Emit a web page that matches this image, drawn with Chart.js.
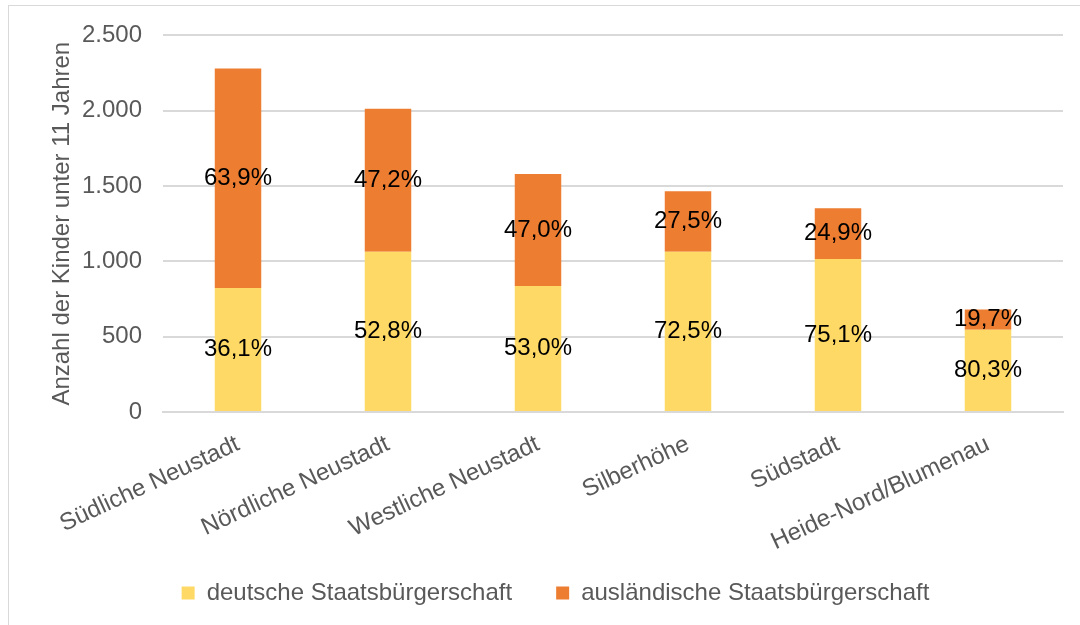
<!DOCTYPE html>
<html>
<head>
<meta charset="utf-8">
<script src="https://cdn.jsdelivr.net/npm/chart.js@4"></script>
<style>
    html, body { margin: 0; padding: 0; background: #fff; }
    #wrap { position: relative; width: 1080px; height: 625px; }
    #frame { position: absolute; left: 8px; top: 5px; width: 1100px; height: 700px;
             border-left: 1px solid #d9d9d9; border-top: 1px solid #d9d9d9; }
    canvas { position: absolute; left: 0; top: 0; }
</style>
</head>
<body>
<div id="wrap">
    <div id="frame"></div>
    <canvas id="kinderChart" width="1080" height="625"></canvas>
</div>
<script>
const stadtteile = ['Südliche Neustadt', 'Nördliche Neustadt', 'Westliche Neustadt', 'Silberhöhe', 'Südstadt', 'Heide-Nord/Blumenau'];
const deutsche = [823, 1063, 837, 1063, 1016, 546];
const auslaendische = [1457, 950, 743, 403, 337, 134];
const anteilDeutsch = [36.1, 52.8, 53.0, 72.5, 75.1, 80.3];
const anteilAuslaendisch = [63.9, 47.2, 47.0, 27.5, 24.9, 19.7];
const yTicks = [0, 500, 1000, 1500, 2000, 2500];

const fontFamily = '"Liberation Sans", Arial, sans-serif';
const grau = '#595959';

// Prozentwerte mittig in die Balkenabschnitte schreiben
const prozentLabels = {
    id: 'prozentLabels',
    beforeDraw(chart) {
        // x-Beschriftung nicht auf die Achsenbox beschneiden
        chart.scales.x._computeLabelArea = () => undefined;
    },
    afterDatasetsDraw(chart) {
        const ctx = chart.ctx;
        ctx.save();
        ctx.font = '24px ' + fontFamily;
        ctx.fillStyle = '#000';
        ctx.textAlign = 'center';
        ctx.textBaseline = 'middle';
        chart.data.datasets.forEach((ds, di) => {
            const meta = chart.getDatasetMeta(di);
            meta.data.forEach((bar, i) => {
                const wert = ds.anteile[i].toFixed(1).replace('.', ',') + '%';
                const y = (bar.y + bar.base) / 2;
                ctx.fillText(wert, bar.x, y);
            });
        });
        ctx.restore();
    }
};

const ctx = document.getElementById('kinderChart').getContext('2d');
new Chart(ctx, {
    type: 'bar',
    data: {
        labels: stadtteile,
        datasets: [
            {
                label: 'deutsche Staatsbürgerschaft',
                data: deutsche,
                anteile: anteilDeutsch,
                backgroundColor: '#ffd966',
                barPercentage: 0.31,
                categoryPercentage: 1
            },
            {
                label: 'ausländische Staatsbürgerschaft',
                data: auslaendische,
                anteile: anteilAuslaendisch,
                backgroundColor: '#ed7d31',
                barPercentage: 0.31,
                categoryPercentage: 1
            }
        ]
    },
    options: {
        responsive: false,
        animation: false,
        layout: { padding: { top: 34, right: 17, left: 48, bottom: 10 } },
        plugins: {
            legend: {
                position: 'bottom',
                labels: {
                    color: grau,
                    font: { size: 24, family: fontFamily },
                    boxWidth: 13,
                    boxHeight: 13,
                    padding: 44
                }
            },
            tooltip: { enabled: false }
        },
        scales: {
            x: {
                stacked: true,
                grid: { display: false },
                border: { color: '#d9d9d9', width: 2 },
                ticks: {
                    color: grau,
                    font: { size: 24, family: fontFamily },
                    minRotation: 25,
                    maxRotation: 25,
                    padding: 10
                },
                afterFit(scale) { scale.height = 125; }
            },
            y: {
                stacked: true,
                min: 0,
                max: 2500,
                afterBuildTicks(scale) { scale.ticks = yTicks.map(v => ({ value: v })); },
                grid: { color: '#d9d9d9', lineWidth: 2, drawTicks: false },
                border: { display: false },
                ticks: {
                    color: grau,
                    font: { size: 24, family: fontFamily },
                    padding: 21,
                    callback: v => v.toLocaleString('de-DE')
                },
                title: {
                    display: true,
                    text: 'Anzahl der Kinder unter 11 Jahren',
                    color: grau,
                    font: { size: 24, family: fontFamily },
                    padding: 0
                },
                afterFit(scale) { scale.width = 115; }
            }
        }
    },
    plugins: [prozentLabels]
});
</script>
</body>
</html>
